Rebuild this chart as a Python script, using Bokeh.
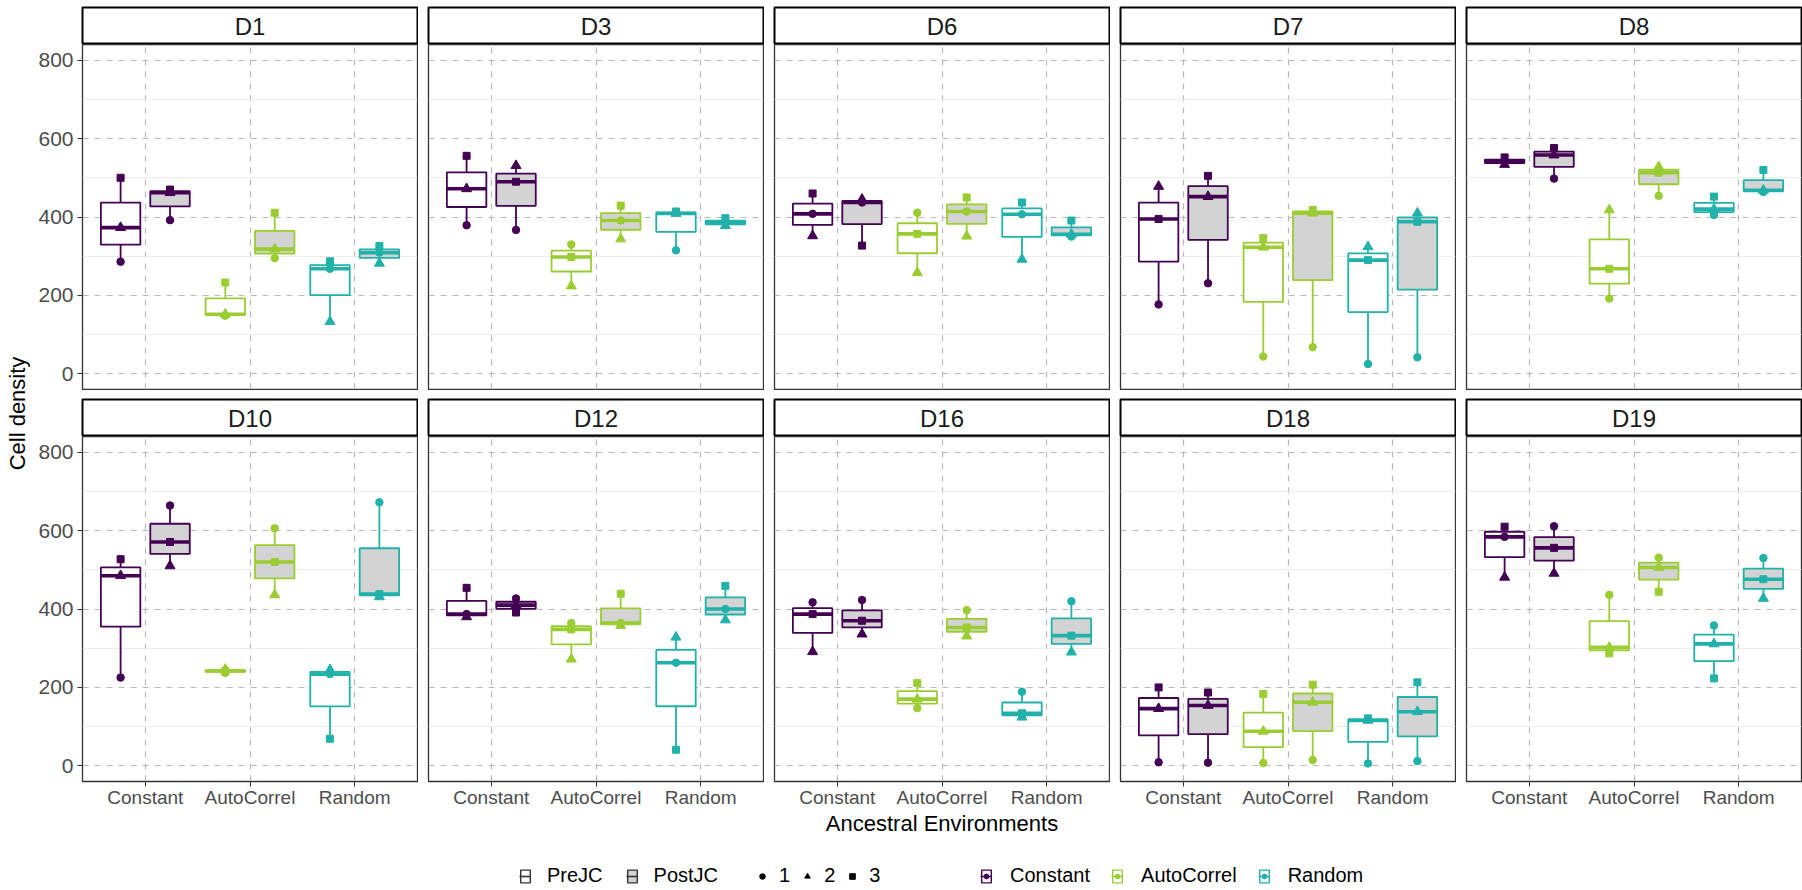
import numpy as np
from math import pi
from bokeh.plotting import figure
from bokeh.models import ColumnDataSource, Range1d, FixedTicker, Label, Legend, LegendItem
from bokeh.layouts import row, column
from bokeh.embed import file_html
from bokeh.resources import INLINE

# ---------------- data ----------------
panel_names = ["D1", "D3", "D6", "D7", "D8", "D10", "D12", "D16", "D18", "D19"]
envs = ["Constant", "AutoCorrel", "Random"]
periods = ["PreJC", "PostJC"]
replicates = ["1", "2", "3"]
y_ticks = [0, 200, 400, 600, 800]
y_minor = [100, 300, 500, 700]

# cell density per environment (rows: Constant, AutoCorrel, Random), replicates 1, 2, 3
D1_pre = [[286, 373, 500], [148, 152, 233], [268, 133, 287]]
D1_post = [[392, 462, 470], [295, 318, 411], [309, 282, 326]]
D3_pre = [[379, 472, 556], [330, 224, 298], [315, 409, 414]]
D3_post = [[367, 531, 490], [391, 344, 429], [385, 378, 397]]
D6_pre = [[408, 352, 460], [411, 258, 357], [407, 292, 437]]
D6_post = [[437, 445, 327], [414, 351, 450], [350, 356, 391]]
D7_pre = [[177, 478, 395], [44, 323, 346], [25, 324, 290]]
D7_post = [[231, 452, 505], [68, 410, 418], [42, 410, 388]]
D8_pre = [[541, 534, 552], [192, 418, 268], [405, 420, 452]]
D8_post = [[498, 558, 576], [454, 528, 513], [464, 468, 520]]
D10_pre = [[225, 485, 527], [237, 246, 242], [234, 245, 69]]
D10_post = [[664, 510, 571], [606, 436, 520], [672, 431, 438]]
D12_pre = [[387, 380, 454], [364, 272, 348], [263, 328, 41]]
D12_post = [[427, 410, 391], [364, 358, 439], [400, 372, 459]]
D16_pre = [[417, 291, 387], [147, 170, 211], [189, 124, 134]]
D16_post = [[423, 336, 370], [397, 331, 353], [420, 290, 332]]
D18_pre = [[9, 146, 200], [7, 88, 183], [6, 116, 121]]
D18_post = [[8, 154, 187], [15, 162, 207], [12, 138, 213]]
D19_pre = [[584, 481, 610], [436, 302, 287], [358, 311, 223]]
D19_post = [[611, 491, 556], [531, 506, 444], [530, 427, 476]]

panel_data = {
    "D1": (D1_pre, D1_post), "D3": (D3_pre, D3_post), "D6": (D6_pre, D6_post),
    "D7": (D7_pre, D7_post), "D8": (D8_pre, D8_post), "D10": (D10_pre, D10_post),
    "D12": (D12_pre, D12_post), "D16": (D16_pre, D16_post), "D18": (D18_pre, D18_post),
    "D19": (D19_pre, D19_post),
}

# ---------------- style ----------------
FONT = "Liberation Sans"
env_colors = ["#440154", "#9ACD32", "#20B2AA"]
period_fill = ["white", "#D3D3D3"]
rep_marker = ["circle", "triangle", "square"]
rep_size = [7.5, 10.0, 7.0]
FW, FH = 335, 345
DODGE = 0.236
BOXW = 0.377
YT_W = 30
LEFT0 = 52
GAP = 10
BOTTOM = 58
STRIP_H = 37


def make_panel(name, ci, ri):
    pre, post = panel_data[name]
    p = figure(x_range=Range1d(0.4, len(envs) + 0.6), y_range=Range1d(-40, 840),
               frame_width=FW, frame_height=FH,
               min_border_left=LEFT0 if ci == 0 else GAP, min_border_right=1,
               min_border_top=0, min_border_bottom=BOTTOM if ri == 1 else 1,
               x_axis_location="below" if ri == 1 else None,
               y_axis_location="left" if ci == 0 else None,
               toolbar_location=None, tools="", output_backend="svg", title=None)
    box = {k: [] for k in ["x", "xl", "xr", "q1", "q3", "med", "lo", "hi", "color", "fill"]}
    pts = {k: [] for k in ["x", "y", "shape", "size", "color"]}
    for k, vals in enumerate((pre, post)):
        off = -DODGE if k == 0 else DODGE
        for ei in range(len(envs)):
            v = np.asarray(vals[ei], dtype=float)
            q1, med, q3 = np.percentile(v, [25, 50, 75])
            x = ei + 1 + off
            box["x"].append(x)
            box["xl"].append(x - BOXW / 2)
            box["xr"].append(x + BOXW / 2)
            box["q1"].append(q1)
            box["q3"].append(q3)
            box["med"].append(med)
            box["lo"].append(v.min())
            box["hi"].append(v.max())
            box["color"].append(env_colors[ei])
            box["fill"].append(period_fill[k])
            for r in range(len(replicates)):
                pts["x"].append(x)
                pts["y"].append(v[r])
                pts["shape"].append(rep_marker[r])
                pts["size"].append(rep_size[r])
                pts["color"].append(env_colors[ei])
    bs = ColumnDataSource(box)
    ps = ColumnDataSource(pts)
    p.segment(x0="x", y0="lo", x1="x", y1="q1", line_color="color", line_width=1.8, source=bs)
    p.segment(x0="x", y0="q3", x1="x", y1="hi", line_color="color", line_width=1.8, source=bs)
    p.vbar(x="x", width=BOXW, bottom="q1", top="q3", fill_color="fill", line_color="color",
           line_width=1.8, source=bs)
    p.segment(x0="xl", y0="med", x1="xr", y1="med", line_color="color", line_width=3.6, source=bs)
    p.scatter(x="x", y="y", marker="shape", size="size", fill_color="color", line_color="color",
              line_width=1, source=ps)

    p.xgrid.ticker = FixedTicker(ticks=list(range(1, len(envs) + 1)))
    p.ygrid.ticker = FixedTicker(ticks=y_ticks, minor_ticks=y_minor)
    p.grid.grid_line_color = "#B8B8B8"
    p.grid.grid_line_dash = "6 6"
    p.grid.grid_line_width = 1.2
    p.ygrid.minor_grid_line_color = "#EBEBEB"
    p.ygrid.minor_grid_line_width = 1
    p.outline_line_color = "#333333"
    p.outline_line_width = 1.3
    p.background_fill_color = "white"
    p.border_fill_color = "white"

    if ci == 0:
        ax = p.yaxis[0]
        ax.ticker = FixedTicker(ticks=y_ticks)
        ax.minor_tick_line_color = None
        ax.axis_line_color = None
        ax.major_tick_line_color = "#333333"
        ax.major_tick_in = 0
        ax.major_tick_out = 5
        ax.major_label_standoff = 4
        ax.major_label_text_font = FONT
        ax.major_label_text_font_size = "21px"
        ax.major_label_text_color = "#4D4D4D"
    if ri == 1:
        ax = p.xaxis[0]
        ax.ticker = FixedTicker(ticks=list(range(1, len(envs) + 1)))
        ax.major_label_overrides = {i + 1: e for i, e in enumerate(envs)}
        ax.minor_tick_line_color = None
        ax.axis_line_color = None
        ax.major_tick_line_color = "#333333"
        ax.major_tick_in = 0
        ax.major_tick_out = 5
        ax.major_label_standoff = 0
        ax.major_label_text_font = FONT
        ax.major_label_text_font_size = "19px"
        ax.major_label_text_color = "#4D4D4D"
        if ci == 2:
            ax.axis_label = "Ancestral Environments"
            ax.axis_label_text_font = FONT
            ax.axis_label_text_font_size = "22px"
            ax.axis_label_text_font_style = "normal"
            ax.axis_label_text_color = "black"
            ax.axis_label_standoff = 0
    return p


def make_strip(name, ci, ri):
    s = figure(x_range=Range1d(0, 1), y_range=Range1d(0, 1), frame_width=FW, frame_height=STRIP_H,
               min_border_left=LEFT0 if ci == 0 else GAP, min_border_right=1,
               min_border_top=7 if ri == 0 else 9, min_border_bottom=0,
               x_axis_location=None, y_axis_location=None,
               toolbar_location=None, tools="", output_backend="svg", title=None)
    s.grid.visible = False
    s.outline_line_color = "black"
    s.outline_line_width = 2
    s.add_layout(Label(x=0.5, y=0.5, text=name, text_align="center", text_baseline="middle",
                       text_font=FONT, text_font_size="24px", text_color="#1A1A1A"))
    return s


rows = []
for ri in range(2):
    cells = []
    for ci in range(5):
        name = panel_names[ri * 5 + ci]
        cells.append(column(make_strip(name, ci, ri), make_panel(name, ci, ri)))
    rows.append(row(*cells))
grid = column(*rows)

GRID_H = (7 + STRIP_H) + (FH + 1) + (9 + STRIP_H) + (FH + BOTTOM)
yt = figure(x_range=Range1d(0, YT_W), y_range=Range1d(0, GRID_H), frame_width=YT_W, frame_height=GRID_H,
            min_border=0, x_axis_location=None, y_axis_location=None,
            toolbar_location=None, tools="", output_backend="svg", title=None)
yt.grid.visible = False
yt.outline_line_color = None
yt.add_layout(Label(x=17, y=GRID_H - 413, text="Cell density", angle=pi / 2, text_align="center",
                    text_baseline="middle", text_font=FONT, text_font_size="22px", text_color="black"))

# ---------------- legend ----------------
LW = YT_W + LEFT0 + 5 * FW + 4 * GAP + 5
LH = 48
lf = figure(x_range=Range1d(0, 1), y_range=Range1d(0, 1), frame_width=LW, frame_height=LH,
            min_border=0, x_axis_location=None, y_axis_location=None,
            toolbar_location=None, tools="", output_backend="svg", title=None)
lf.grid.visible = False
lf.outline_line_color = None
nan_src = ColumnDataSource(dict(a=np.array([np.nan])))

fill_items = []
for k, per in enumerate(periods):
    b = lf.quad(left="a", right="a", top="a", bottom="a", source=nan_src,
                fill_color=period_fill[k], line_color="#333333", line_width=1.4)
    m = lf.segment(x0="a", y0="a", x1="a", y1="a", source=nan_src, line_color="#333333", line_width=1.6)
    fill_items.append(LegendItem(label=per, renderers=[b, m]))

shape_items = []
for r, rep in enumerate(replicates):
    sc = lf.scatter(x="a", y="a", source=nan_src, marker=rep_marker[r], color="black")
    shape_items.append(LegendItem(label=rep, renderers=[sc]))

color_items = []
for ei, env in enumerate(envs):
    b = lf.quad(left="a", right="a", top="a", bottom="a", source=nan_src,
                fill_color="white", line_color=env_colors[ei], line_width=1.4)
    m = lf.segment(x0="a", y0="a", x1="a", y1="a", source=nan_src, line_color=env_colors[ei], line_width=1.6)
    d = lf.scatter(x="a", y="a", source=nan_src, marker="circle", color=env_colors[ei])
    color_items.append(LegendItem(label=env, renderers=[b, m, d]))


def add_legend(items, x, gw, gh, standoff, spacing):
    leg = Legend(items=items, orientation="horizontal", location=(x, 0),
                 glyph_width=gw, glyph_height=gh, label_standoff=standoff, spacing=spacing,
                 label_width=0, padding=0, margin=0, border_line_color=None, background_fill_alpha=0,
                 label_text_font=FONT, label_text_font_size="20px", label_text_color="black",
                 inactive_fill_alpha=0)
    lf.add_layout(leg, "center")


add_legend(fill_items, 519, 12, 16, 16, 23)
add_legend(shape_items, 755, 14, 14, 10, 10)
add_legend(color_items, 980, 12, 16, 18, 21)

layout = column(row(yt, grid), lf)
open("out.html", "w").write(file_html(layout, INLINE))
